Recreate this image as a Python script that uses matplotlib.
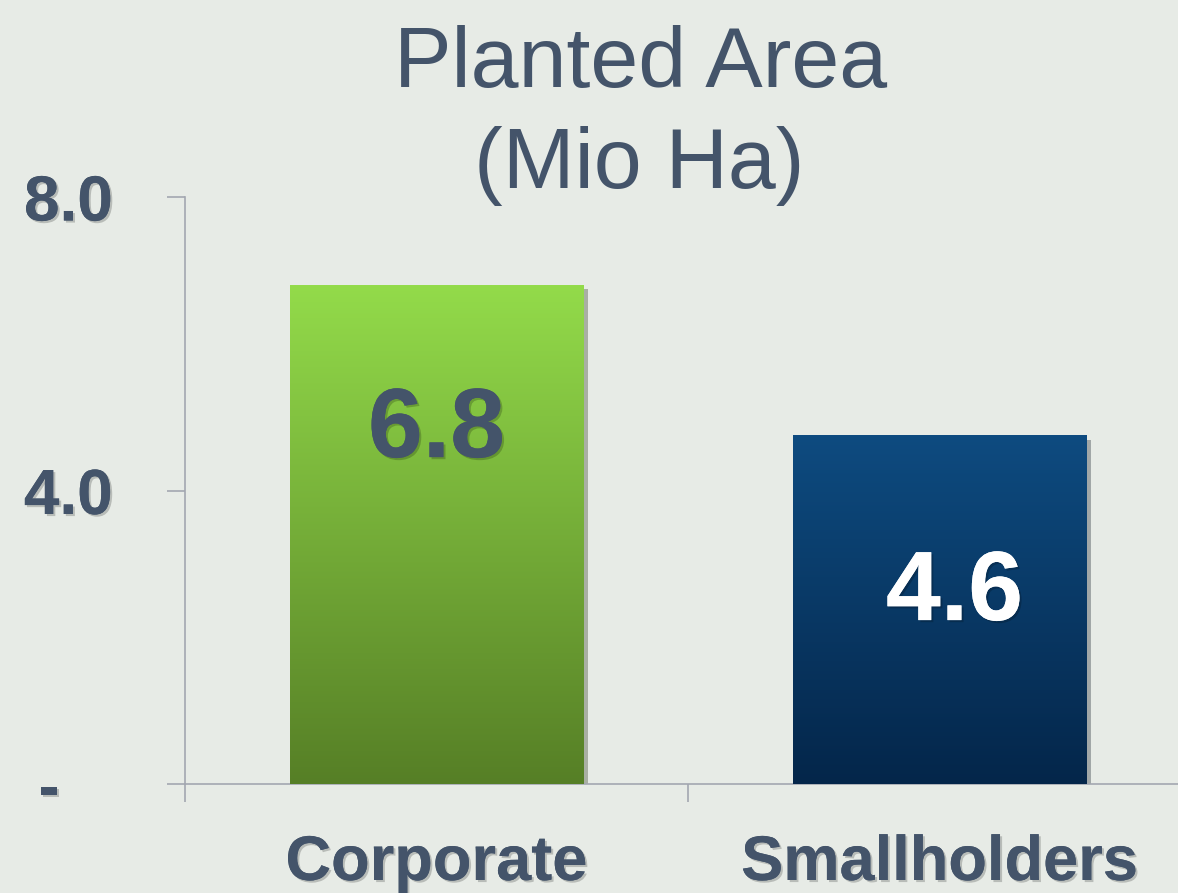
import numpy as np
import matplotlib
matplotlib.use("Agg")
import matplotlib.pyplot as plt
import matplotlib.patheffects as pe
from matplotlib.colors import LinearSegmentedColormap

# ---- data ----
categories = ["Corporate", "Smallholders"]
values = [6.8, 4.75]
value_labels = ["6.8", "4.6"]
ytick_values = [0, 4, 8]
ytick_labels = ["-   ", "4.0", "8.0"]
title_lines = ["Planted Area", "(Mio Ha)"]

TXT = "#44546a"
FONT = "Liberation Sans"
plt.rcParams["font.family"] = [FONT, "DejaVu Sans"]

fig = plt.figure(figsize=(11.78, 8.93), dpi=100)
fig.patch.set_facecolor("#e7ebe6")

ax = fig.add_axes([185 / 1178, 109 / 893, 1 - 185 / 1178, (784 - 197) / 893])
ax.set_facecolor("none")

shadow_txt = [pe.withSimplePatchShadow(offset=(1.5, -1.5), shadow_rgbFace="black", alpha=0.2), pe.Normal()]

x = np.arange(len(categories))
bar_w = 294 / 503
grads = [("#93db4a", "#567f26"), ("#0e4b80", "#04264a")]
bars = ax.bar(x, values, width=bar_w, color=[g[1] for g in grads], zorder=2)
for b, (top, bot) in zip(bars, grads):
    b.set_path_effects([pe.SimplePatchShadow(offset=(3, -3), alpha=0.3), pe.Normal()])
    cmap = LinearSegmentedColormap.from_list("g", [bot, top])
    grad = np.linspace(0, 1, 256).reshape(-1, 1)
    im = ax.imshow(grad, cmap=cmap, origin="lower", aspect="auto",
                   extent=[b.get_x(), b.get_x() + b.get_width(), 0, b.get_height()],
                   zorder=3)
    im.set_clip_path(b)

# value labels
label_pos = [(0.0, 4.455), (1.03, 2.234)]
label_colors = [TXT, "white"]
for (lx, ly), txt, c in zip(label_pos, value_labels, label_colors):
    ax.text(lx, ly, txt, ha="center", va="baseline", fontsize=71, fontweight="bold",
            color=c, zorder=5, path_effects=shadow_txt)

# spines
for s in ["top", "right"]:
    ax.spines[s].set_visible(False)
for s in ["left", "bottom"]:
    ax.spines[s].set_color("#a3a7b0")
    ax.spines[s].set_linewidth(1.2)

ax.set_yticks(ytick_values)
ax.set_yticklabels(ytick_labels)
ax.tick_params(axis="y", length=13, width=1.2, color="#a3a7b0", pad=39,
               labelsize=46, labelcolor=TXT)
for t in ax.get_yticklabels():
    t.set_fontweight("bold")
    t.set_path_effects(shadow_txt)

ax.set_xticks(x)
ax.set_xticklabels(categories)
ax.set_xticks([-0.5, 0.5, 1.5], minor=True)
ax.tick_params(axis="x", which="major", length=0, pad=36, labelsize=45.5, labelcolor=TXT)
ax.tick_params(axis="x", which="minor", length=13, width=1.2, color="#a3a7b0")
for t in ax.get_xticklabels():
    t.set_fontweight("bold")
    t.set_path_effects(shadow_txt)

ax.set_xlim(-0.5, -0.5 + (1178 - 185) / 503)
ax.set_ylim(0, 8)

# title
fig.text(641 / 1178, 1 - 87 / 893, title_lines[0], ha="center", va="baseline",
         fontsize=62, color=TXT)
fig.text(639 / 1178, 1 - 188 / 893, title_lines[1], ha="center", va="baseline",
         fontsize=62, color=TXT)

fig.savefig("out.png", dpi=100, facecolor=fig.get_facecolor())
